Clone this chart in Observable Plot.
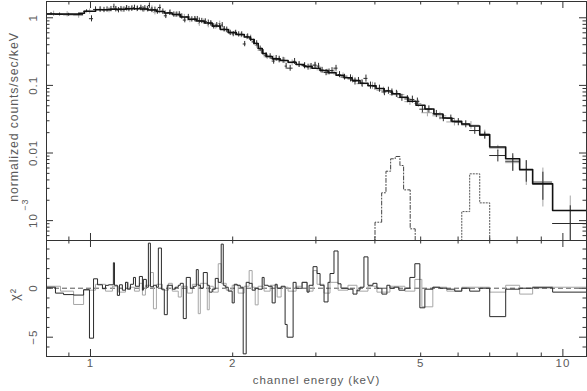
<!DOCTYPE html>
<html><head><meta charset="utf-8">
<script src="https://cdn.jsdelivr.net/npm/d3@7"></script>
<script src="https://cdn.jsdelivr.net/npm/@observablehq/plot@0.6"></script>
<style>
body{margin:0;background:#fff}
#c{position:relative;width:587px;height:391px;overflow:hidden;background:#fff}
#c svg{position:absolute;left:0}
#c svg text{letter-spacing:0.9px}
</style>
</head><body><div id="c"></div>
<script>
// ---------- axis / tick values ----------
const xDomain = [0.807, 11.22];
const yTopDomain = [5.08e-4, 1.742];
const yBotDomain = [-6.97, 4.87];
const xMajorTicks = [1, 10];
const xMinorTicks = [0.9, 2, 3, 4, 5, 6, 7, 8, 9];
const xTickLabels = [1, 2, 5, 10];
const yTopMajor = [0.001, 0.01, 0.1, 1];
const yTopMinor = [6e-4,7e-4,8e-4,9e-4,0.002,0.003,0.004,0.005,0.006,0.007,0.008,0.009,0.02,0.03,0.04,0.05,0.06,0.07,0.08,0.09,0.2,0.3,0.4,0.5,0.6,0.7,0.8,0.9];
const yTopLabelValues = [0.01, 0.1, 1];
const yTopLabels = ["0.01", "0.1", "1"];
const yTopPowerValue = [0.001];
const yTopPowerBase = ["10"];
const yTopPowerExp = ["\u22123"];
const yBotMajor = [-5, 0];
const yBotMinor = [-6, -4, -3, -2, -1, 1, 2, 3, 4];
const yBotLabels = ["\u22125", "0"];

// ---------- dataset 1 (black) ----------
const blackEdges = [0.807,0.843,0.877,0.921,0.967,0.995,1.015,1.035,1.060,1.076,1.092,1.118,1.124,1.140,1.152,1.168,1.186,1.197,1.215,1.233,1.245,1.269,1.288,1.294,1.313,1.326,1.339,1.359,1.379,1.392,1.413,1.433,1.454,1.490,1.512,1.534,1.549,1.572,1.595,1.627,1.651,1.675,1.691,1.708,1.733,1.767,1.784,1.810,1.837,1.864,1.891,1.910,1.929,1.957,1.995,2.015,2.044,2.075,2.105,2.136,2.167,2.199,2.232,2.264,2.309,2.331,2.377,2.424,2.460,2.484,2.533,2.582,2.608,2.685,2.724,2.805,2.874,2.902,2.959,3.017,3.062,3.122,3.183,3.214,3.277,3.342,3.391,3.508,3.595,3.665,3.719,3.792,3.867,3.962,4.040,4.139,4.241,4.304,4.388,4.496,4.629,4.743,4.860,4.980,5.103,5.305,5.489,5.679,5.904,6.109,6.349,6.668,7.000,7.567,8.100,8.630,9.512,11.22];
const blackFlux = [1.14,1.12,1.11,1.12,1.25,0.97,1.33,1.33,1.31,1.33,
 1.35,1.46,1.35,1.30,1.35,1.33,1.39,1.35,1.38,1.41,
 1.37,1.41,1.34,1.39,1.35,1.52,1.31,1.32,1.24,1.42,
 1.24,1.07,1.19,1.12,1.12,1.13,1.05,0.925,1.03,0.95,
 0.96,0.96,0.91,0.90,0.885,0.85,0.83,0.75,0.78,0.75,
 0.78,0.68,0.67,0.60,0.576,0.60,0.57,0.57,0.41,0.53,
 0.49,0.44,0.42,0.35,0.31,0.28,0.27,0.229,0.252,0.245,
 0.236,0.193,0.18,0.227,0.204,0.196,0.187,0.192,0.200,0.193,
 0.168,0.155,0.159,0.166,0.180,0.145,0.133,0.128,0.115,0.117,
 0.108,0.127,0.100,0.097,0.090,0.080,0.084,0.079,0.0755,0.066,
 0.063,0.062,0.058,0.0445,0.0445,0.038,0.033,0.0325,0.0288,0.0268,
 0.0215,0.0182,0.00918,0.00756,0.0057,0.0036,0.000906];
const blackErr = [0.057,0.056,0.056,0.056,0.063,0.10,0.120,0.120,0.118,0.120,
 0.122,0.131,0.122,0.117,0.122,0.120,0.125,0.122,0.124,0.127,
 0.123,0.127,0.121,0.125,0.122,0.137,0.118,0.119,0.112,0.128,
 0.112,0.096,0.107,0.101,0.101,0.102,0.095,0.083,0.093,0.086,
 0.086,0.086,0.082,0.081,0.080,0.077,0.075,0.068,0.070,0.068,
 0.070,0.061,0.060,0.054,0.052,0.054,0.051,0.051,0.037,0.048,
 0.044,0.040,0.038,0.032,0.028,0.025,0.024,
 0.023,0.025,0.025,0.024,0.019,0.018,0.023,0.020,0.020,0.019,
 0.019,0.020,0.019,0.017,0.016,0.016,0.017,0.018,0.015,0.013,
 0.0154,0.0138,0.0140,0.0130,0.0152,0.0120,0.0116,0.0108,0.0096,0.0101,
 0.0095,0.0091,0.0079,0.0076,0.0074,0.0070,
 0.0053,0.0053,0.0046,0.0040,0.0039,0.0035,0.0032,0.0026,0.0022,
 0.0018,0.0022,0.0020,0.0016,0.00075];
const blackChi = [0.1,-0.5,-0.65,-0.7,-0.15,-5.1,0.96,0.35,-0.05,0.29,
 0.35,2.6,0.3,-0.73,0.35,-0.2,0.6,-0.1,0.4,1.1,
 0.2,1.2,-0.2,0.9,0.1,4.6,0.15,0.3,0.1,4.1,
 -0.1,-2.7,0.3,-0.1,0.1,0.3,0.5,-3.1,1.1,0.0,
 0.2,1.9,0.3,0.0,1.6,0.3,-0.4,-0.1,1.0,0.6,
 4.5,0.3,0.1,-0.3,-1.5,0.4,0.3,0.1,-6.7,0.6,
 0.5,-0.2,0.0,-0.1,1.1,0.3,0.2,-1.5,0.4,0.0,
 0.2,-3.7,-5.0,0.6,0.0,0.6,-0.4,0.3,2.2,1.5,
 0.3,-1.4,0.6,1.5,3.8,0.45,0.0,-0.1,-0.6,-0.2,
 0.1,3.2,0.3,0.5,0.0,-0.6,0.3,0.0,0.1,-0.2,
 0.0,1.1,2.5,-2.0,-0.1,0.1,0.0,-0.1,-0.3,0.0,
 -0.3,0.0,-2.9,-0.1,0.0,0.05,-0.4];

// ---------- dataset 2 (grey) ----------
const greyEdges = [0.807,0.864,0.921,0.967,1.025,1.076,1.113,1.146,1.186,1.203,1.239,1.269,1.288,1.307,1.339,1.359,1.379,1.420,1.462,1.490,1.534,1.557,1.603,1.643,1.691,1.708,1.767,1.784,1.819,1.864,1.891,1.938,1.995,2.054,2.115,2.167,2.199,2.232,2.264,2.331,2.401,2.484,2.533,2.620,2.724,2.805,2.874,2.959,3.017,3.122,3.214,3.342,3.508,3.665,3.867,4.040,4.304,4.629,4.860,5.029,5.305,5.679,6.109,6.668,7.000,7.567,8.100,8.630,9.512,11.22];
const greyFlux = [1.15,1.13,1.08,1.24,1.33,1.30,1.34,1.32,1.39,1.36,
 1.35,1.37,1.32,1.33,1.38,1.21,1.26,1.17,1.20,1.11,
 1.08,1.03,0.93,0.94,0.82,0.88,0.78,0.82,0.745,0.82,
 0.68,0.62,0.59,0.556,0.52,0.51,0.44,0.39,0.33,0.265,
 0.25,0.236,0.234,0.216,0.205,0.196,0.188,0.196,0.170,0.158,
 0.157,0.139,0.123,0.106,0.0995,0.0845,0.073,0.0575,0.054,0.0394,
 0.0355,0.0288,0.0258,0.0190,0.0118,0.0072,0.00551,0.00379,0.00141];
const greyErr = [0.104,0.102,0.097,0.112,0.120,0.117,0.121,0.119,0.125,0.122,
 0.122,0.123,0.119,0.120,0.124,0.109,0.113,0.105,0.108,0.100,
 0.097,0.093,0.084,0.085,0.074,0.079,0.070,0.074,0.067,0.074,
 0.061,0.056,0.053,0.050,0.047,0.046,0.040,0.035,0.030,0.024,
 0.023,
 0.024,0.023,0.022,0.021,0.020,0.019,0.020,0.017,0.016,0.016,0.014,
 0.0148,0.0127,0.0119,0.0101,0.0088,0.0069,0.0065,
 0.0051,0.0046,0.0037,0.0034,0.0028,0.0012,0.0018,0.0022,0.0022,0.0009];
const greyChi = [0.2,-0.3,-1.66,-0.2,0.4,-0.3,0.2,-0.4,0.6,0.1,
 -0.3,0.5,-0.7,0.3,1.6,-2.1,0.4,-0.2,0.5,-0.3,
 -0.9,0.2,-0.5,0.4,-2.6,0.5,-2.2,0.2,-0.4,2.5,
 0.5,-0.2,0.3,-0.5,0.2,1.8,0.1,-1.7,0.2,-0.3,
 0.3,-0.9,0.1,-0.3,0.2,0.6,-0.3,1.8,0.4,-0.5,
 0.6,-0.2,0.3,-0.3,0.2,-0.4,0.2,-0.3,0.9,-1.9,
 0.1,-0.3,0.1,0.1,-0.4,0.3,-0.6,0.15,0.1];

// ---------- folded model ----------
const modelEdges = [0.807,0.948,0.971,1.025,1.102,1.186,1.275,1.326,1.379,1.434,1.490,1.550,1.611,1.675,1.742,1.811,1.883,1.957,2.035,2.116,2.179,2.221,2.265,2.310,2.355,2.425,2.520,2.620,2.725,2.833,2.945,3.062,3.184,3.310,3.442,3.579,3.721,3.868,4.022,4.182,4.348,4.521,4.700,4.887,5.105,5.333,5.572,5.821,6.107,6.349,6.668,7.000,7.567,8.100,8.630,9.512,11.22];
const modelValues = [1.138,1.170,1.252,1.313,1.336,1.359,1.349,1.304,1.239,1.178,1.119,1.028,0.950,0.897,0.838,0.756,0.671,0.606,0.566,0.520,0.478,0.417,0.351,0.296,0.268,0.247,0.2335,0.2197,0.2038,0.1904,0.1791,0.1662,0.1541,0.1415,0.1296,0.1182,0.1078,0.0987,0.0900,0.0826,0.0751,0.0669,0.0584,0.0509,0.0448,0.0378,0.0329,0.0294,0.0269,0.0251,0.0188,0.01227,0.00821,0.00570,0.00350,0.00141];

// ---------- line components ----------
const lineAEdges = [4.002,4.134,4.222,4.319,4.416,4.519,4.601,4.751,4.868];
const lineAValues = [9.47e-4,2.58e-3,5.38e-3,8.21e-3,8.88e-3,6.53e-3,2.85e-3,7.56e-4];
const lineBEdges = [6.109,6.349,6.668,7.000];
const lineBValues = [1.36e-3,4.92e-3,1.83e-3];

// ---------- helpers ----------
function check(name, edges, vals) {
  if (edges.length !== vals.length + 1) throw new Error(name + ": " + edges.length + " edges vs " + vals.length + " values");
}
check("black flux", blackEdges, blackFlux);
check("black err", blackEdges, blackErr);
check("black chi", blackEdges, blackChi);
check("grey flux", greyEdges, greyFlux);
check("grey err", greyEdges, greyErr);
check("grey chi", greyEdges, greyChi);
check("model", modelEdges, modelValues);
check("lineA", lineAEdges, lineAValues);
check("lineB", lineBEdges, lineBValues);

function steps(edges, vals, drop) {
  const pts = vals.map((v, i) => ({x: edges[i], y: v}));
  pts.push({x: edges[edges.length - 1], y: vals[vals.length - 1]});
  if (drop !== undefined) {
    pts.unshift({x: edges[0], y: drop});
    pts.push({x: edges[edges.length - 1], y: drop});
  }
  return pts;
}
function crosses(edges, flux, err, color) {
  const d = flux.map((f, i) => ({lo: edges[i], hi: edges[i + 1], c: (edges[i] + edges[i + 1]) / 2, f, e: err[i]}));
  return [
    Plot.ruleY(d, {y: "f", x1: "lo", x2: "hi", stroke: color, strokeWidth: 1, clip: true}),
    Plot.ruleX(d, {x: "c", y1: r => Math.max(r.f - r.e, 1e-6), y2: r => r.f + r.e, stroke: color, strokeWidth: 1, clip: true})
  ];
}
const TK = "#333";
function ticks(innerW, innerH, xMaj, xMin, yMaj, yMin) {
  const L = 7, S = 3.5, o = {stroke: TK, strokeWidth: 1};
  return [
    Plot.tickX(xMaj, {x: d => d, insetTop: innerH - L, ...o}),
    Plot.tickX(xMaj, {x: d => d, insetBottom: innerH - L, ...o}),
    Plot.tickX(xMin, {x: d => d, insetTop: innerH - S, ...o}),
    Plot.tickX(xMin, {x: d => d, insetBottom: innerH - S, ...o}),
    Plot.tickY(yMaj, {y: d => d, insetRight: innerW - L, ...o}),
    Plot.tickY(yMaj, {y: d => d, insetLeft: innerW - L, ...o}),
    Plot.tickY(yMin, {y: d => d, insetRight: innerW - S, ...o}),
    Plot.tickY(yMin, {y: d => d, insetLeft: innerW - S, ...o})
  ];
}

const W = 587, ML = 46, MR = 1;
const innerW = W - ML - MR;
const font = {fontFamily: "Liberation Sans, Arial, sans-serif", fontSize: "11.5px", color: "#5a5a5a", background: "none", overflow: "visible"};

// ---------- top panel ----------
const topPlot = Plot.plot({
  width: W, height: 242, marginLeft: ML, marginRight: MR, marginTop: 1, marginBottom: 2,
  style: font,
  x: {type: "log", domain: xDomain, axis: null},
  y: {type: "log", domain: yTopDomain, axis: null},
  marks: [
    ...ticks(innerW, 239, xMajorTicks, xMinorTicks, yTopMajor, yTopMinor),
    ...crosses(greyEdges, greyFlux, greyErr, "#a6a6a6"),
    ...crosses(blackEdges, blackFlux, blackErr, "#2a2a2a"),
    Plot.line(steps(lineAEdges, lineAValues, 1e-6), {x: "x", y: "y", curve: "step-after", stroke: "#444", strokeWidth: 1, strokeDasharray: "4,2,1,2", clip: true}),
    Plot.line(steps(lineBEdges, lineBValues, 1e-6), {x: "x", y: "y", curve: "step-after", stroke: "#555", strokeWidth: 1, strokeDasharray: "1.2,1.8", clip: true}),
    Plot.line(steps(modelEdges, modelValues), {x: "x", y: "y", curve: "step-after", stroke: "#111", strokeWidth: 1.6, clip: true}),
    Plot.frame({stroke: TK, strokeWidth: 1}),
    Plot.text(yTopLabelValues, {y: d => d, text: (d, i) => yTopLabels[i], frameAnchor: "left", dx: -13, rotate: -90, textAnchor: "middle"}),
    Plot.text(yTopPowerValue, {y: d => d, text: (d, i) => yTopPowerBase[i], frameAnchor: "left", dx: -13, rotate: -90, textAnchor: "middle"}),
    Plot.text(yTopPowerValue, {y: d => d, text: (d, i) => yTopPowerExp[i], frameAnchor: "left", dx: -21, dy: -16, rotate: -90, textAnchor: "middle", fontSize: 9}),
    Plot.text(["normalized counts/sec/keV"], {text: d => d, frameAnchor: "left", dx: -32, dy: -4, rotate: -90, textAnchor: "middle", fontSize: 12.3})
  ]
});
topPlot.style.top = "0px";

// ---------- residual panel ----------
const botPlot = Plot.plot({
  width: W, height: 152, marginLeft: ML, marginRight: MR, marginTop: 1, marginBottom: 35,
  style: font,
  x: {type: "log", domain: xDomain, axis: null},
  y: {type: "linear", domain: yBotDomain, axis: null},
  marks: [
    ...ticks(innerW, 116, xMajorTicks, xMinorTicks, yBotMajor, yBotMinor),
    Plot.ruleY([0], {stroke: "#555", strokeWidth: 1, strokeDasharray: "5,3"}),
    Plot.line(steps(greyEdges, greyChi), {x: "x", y: "y", curve: "step-after", stroke: "#a6a6a6", strokeWidth: 1, clip: true}),
    Plot.line(steps(blackEdges, blackChi), {x: "x", y: "y", curve: "step-after", stroke: "#2a2a2a", strokeWidth: 1, clip: true}),
    Plot.frame({stroke: TK, strokeWidth: 1}),
    Plot.text(yBotMajor, {y: d => d, text: (d, i) => yBotLabels[i], frameAnchor: "left", dx: -13, rotate: -90, textAnchor: "middle"}),
    Plot.text(["\u03C7\u00B2"], {text: d => d, frameAnchor: "left", dx: -32, dy: -4, rotate: -90, textAnchor: "middle", fontSize: 13}),
    Plot.text(xTickLabels, {x: d => d, text: d => String(d), frameAnchor: "bottom", dy: 10}),
    Plot.text(["channel energy (keV)"], {text: d => d, frameAnchor: "bottom", dy: 27})
  ]
});
botPlot.style.top = "239px";

const c = document.getElementById("c");
c.appendChild(topPlot);
c.appendChild(botPlot);
</script>
</body></html>
